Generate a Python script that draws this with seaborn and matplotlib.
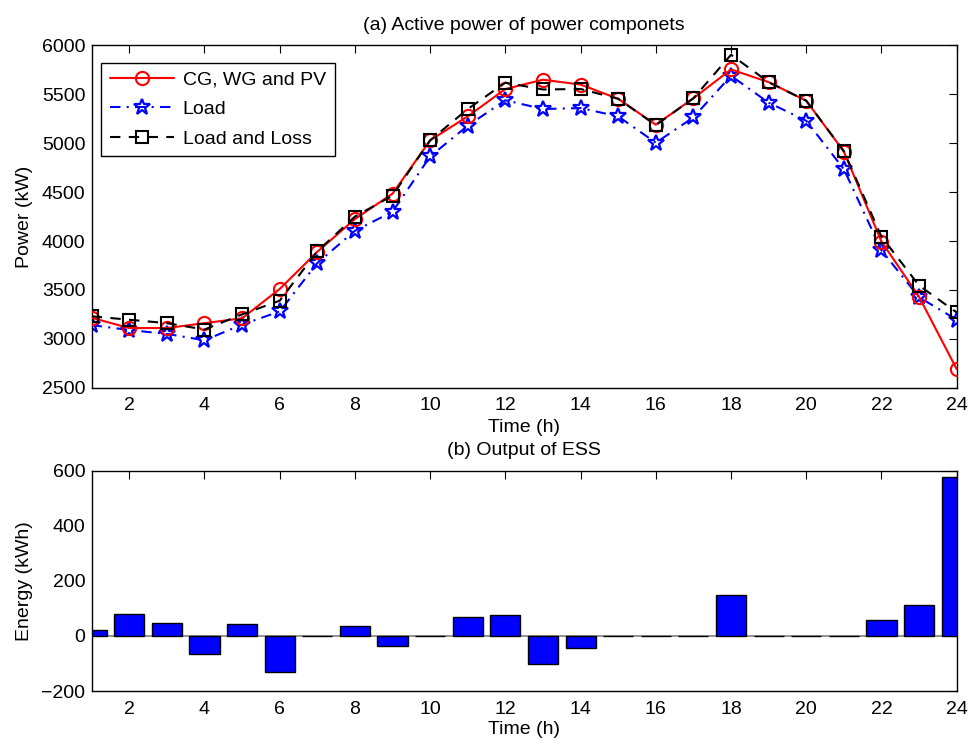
import numpy as np
import pandas as pd
import matplotlib
matplotlib.use("Agg")
import matplotlib.pyplot as plt
import seaborn as sns

# ---- data ----
hours = list(range(1, 25))
cg_wg_pv = [3215, 3110, 3110, 3160, 3210, 3510, 3890, 4225, 4485, 5030, 5275, 5555,
            5650, 5600, 5455, 5190, 5460, 5755, 5625, 5435, 4915, 3995, 3430, 2690]
load = [3140, 3090, 3050, 2985, 3145, 3280, 3775, 4105, 4300, 4865, 5180, 5440,
        5350, 5360, 5275, 5005, 5265, 5690, 5415, 5230, 4735, 3905, 3425, 3195]
load_loss = [3230, 3195, 3160, 3095, 3250, 3390, 3895, 4250, 4465, 5030, 5350, 5620,
             5550, 5555, 5455, 5185, 5460, 5905, 5625, 5435, 4920, 4045, 3545, 3270]
ess = [20, 81, 47, -64, 42, -131, 0, 35, -38, 0, 68, 75,
       -101, -44, 0, 0, 0, 150, 0, 0, 0, 57, 114, 578]

xticks = list(range(2, 25, 2))
yticks_top = list(range(2500, 6001, 500))
yticks_bot = [-200, 0, 200, 400, 600]

sns.set_style("white", {"xtick.direction": "in", "ytick.direction": "in"})
plt.rcParams['font.family'] = ['Liberation Sans', 'DejaVu Sans']
plt.rcParams['text.color'] = 'black'
plt.rcParams['axes.labelcolor'] = 'black'
plt.rcParams['xtick.color'] = 'black'
plt.rcParams['ytick.color'] = 'black'
plt.rcParams['axes.edgecolor'] = 'black'
plt.rcParams['axes.linewidth'] = 1.0
FS = 14

fig = plt.figure(figsize=(9.68, 7.42), dpi=100)
ax1 = fig.add_axes([0.0947, 0.4775, 0.8936, 0.4612])
ax2 = fig.add_axes([0.0947, 0.0687, 0.8936, 0.2970])

df = pd.DataFrame({"h": hours, "cg": cg_wg_pv, "load": load, "loss": load_loss, "ess": ess})

sns.lineplot(data=df, x="h", y="cg", ax=ax1, color="red", linewidth=1.5, linestyle="-",
             marker="o", markersize=9.5, markerfacecolor="none", markeredgecolor="red",
             markeredgewidth=1.5, label="CG, WG and PV", errorbar=None, zorder=3)
sns.lineplot(data=df, x="h", y="load", ax=ax1, color="blue", linewidth=1.5,
             linestyle=(0, (5, 3, 1, 3)),
             marker="*", markersize=12, markerfacecolor="none", markeredgecolor="blue",
             markeredgewidth=1.6, label="Load", errorbar=None, zorder=2)
sns.lineplot(data=df, x="h", y="loss", ax=ax1, color="black", linewidth=1.5,
             linestyle=(0, (5, 4)),
             marker="s", markersize=8, markerfacecolor="none", markeredgecolor="black",
             markeredgewidth=1.5, label="Load and Loss", errorbar=None, zorder=4)

ax1.set_xlim(1, 24)
ax1.set_ylim(2500, 6000)
ax1.set_xticks(xticks)
ax1.set_yticks(yticks_top)
ax1.set_title("(a) Active power of power componets", fontsize=FS, pad=11)
ax1.set_xlabel("Time (h)", fontsize=FS, labelpad=3)
ax1.set_ylabel("Power (kW)", fontsize=FS, labelpad=6)
leg = ax1.legend(loc="upper left", bbox_to_anchor=(0.011, 0.95), fontsize=FS,
                 frameon=True, fancybox=False, edgecolor="black", framealpha=1,
                 handlelength=3.3, handletextpad=0.45, labelspacing=0.6,
                 borderpad=0.45, borderaxespad=0, numpoints=1)
leg.get_frame().set_linewidth(1.0)

ax2.axhline(0, color="gray", linewidth=1.2, zorder=1)
sns.barplot(data=df, x="h", y="ess", ax=ax2, native_scale=True, color="blue",
            saturation=1, edgecolor="black", linewidth=1.0, width=0.8,
            errorbar=None, zorder=2)
ax2.set_xlim(1, 24)
ax2.set_ylim(-200, 600)
ax2.set_xticks(xticks)
ax2.set_yticks(yticks_bot)
ax2.set_title("(b) Output of ESS", fontsize=FS, pad=11)
ax2.set_xlabel("Time (h)", fontsize=FS, labelpad=2)
ax2.set_ylabel("Energy (kWh)", fontsize=FS, labelpad=6)

for ax in (ax1, ax2):
    ax.tick_params(axis="both", which="both", direction="in", top=True, right=True,
                   length=6, width=0.8, labelsize=FS, color="black", labelcolor="black")
    ax.tick_params(axis="x", pad=7)
    ax.tick_params(axis="y", pad=4.5)
    for s in ax.spines.values():
        s.set_visible(True)
        s.set_color("black")
        s.set_linewidth(1.0)

fig.savefig("out.png", dpi=100)
